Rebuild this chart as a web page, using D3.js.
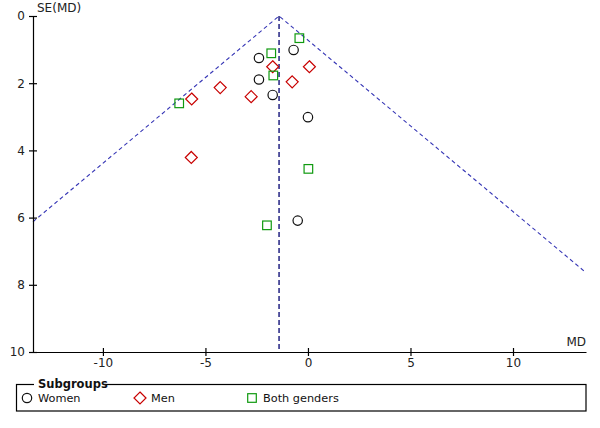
<!DOCTYPE html>
<html><head><meta charset="utf-8">
<script src="https://cdn.jsdelivr.net/npm/d3@7"></script>
<style>body{margin:0;background:#fff}svg{display:block}text{font-family:"DejaVu Sans",Verdana,sans-serif}</style>
</head><body>
<svg id="c" width="600" height="428"></svg>
<script>
// Data (MD, SE(MD))
const women = [[-0.70,1.01],[-2.39,1.25],[-2.39,1.89],[-1.72,2.35],[0.00,3.01],[-0.50,6.09]];
const men = [[-1.72,1.51],[0.07,1.51],[-0.77,1.96],[-4.28,2.13],[-2.77,2.40],[-5.67,2.47],[-5.69,4.21]];
const both = [[-0.42,0.66],[-1.79,1.11],[-1.69,1.77],[-6.28,2.60],[0.02,4.55],[-2.00,6.23]];
const pooledMD = -1.41;
const xDomain = [-13.41, 13.56];
const yDomain = [0, 10];
const xTicks = [-10,-5,0,5,10];
const yTicks = [0,2,4,6,8,10];
const legendLabels = ["Women","Men","Both genders"];

const svg = d3.select("#c");
const x = d3.scaleLinear(xDomain, [33, 586]);
const y = d3.scaleLinear(yDomain, [16, 352]);

// funnel lines
const seL = (pooledMD - xDomain[0]) / 1.96;
const seR = (xDomain[1] - pooledMD) / 1.96;
const funnel = [[xDomain[0], seL],[pooledMD,0],[xDomain[1], seR]];
svg.append("path")
  .attr("d", d3.line().x(d=>x(d[0])).y(d=>y(d[1]))(funnel))
  .attr("fill","none").attr("stroke","#3535b5").attr("stroke-width",1.1)
  .attr("stroke-dasharray","4,3");
svg.append("line")
  .attr("x1",x(pooledMD)).attr("x2",x(pooledMD)).attr("y1",y(0)).attr("y2",y(10))
  .attr("stroke","#000070").attr("stroke-width",1.3).attr("stroke-dasharray","5,3");

// axes
const ya = svg.append("g").attr("transform",`translate(${x(xDomain[0])},0)`)
  .call(d3.axisLeft(y).tickValues(yTicks).tickSize(4).tickSizeOuter(0).tickPadding(4));
ya.selectAll(".tick line").attr("x1",4);
const xa = svg.append("g").attr("transform",`translate(0,${y(10)})`)
  .call(d3.axisBottom(x).tickValues(xTicks).tickSize(4).tickSizeOuter(0).tickPadding(2)
    .tickFormat(d=> (d<0?"-":"")+Math.abs(d)));
xa.selectAll(".tick line").attr("y1",-4);
svg.selectAll(".tick text").attr("font-size",12).attr("fill","#222").style("font-family","DejaVu Sans, Verdana, sans-serif");
svg.selectAll(".domain, .tick line").attr("stroke","#000").attr("stroke-width",1.2);

svg.append("text").attr("x",37).attr("y",12).attr("font-size",12).attr("fill","#222").text("SE(MD)");
svg.append("text").attr("x",586).attr("y",346).attr("text-anchor","end").attr("font-size",12).attr("fill","#222").text("MD");

// markers
const circ = (g,cx,cy)=> g.append("circle").attr("cx",cx).attr("cy",cy).attr("r",4.7)
  .attr("fill","none").attr("stroke","#111").attr("stroke-width",1.2);
const diam = (g,cx,cy)=> g.append("path").attr("d",`M${cx},${cy-6}L${cx+6},${cy}L${cx},${cy+6}L${cx-6},${cy}Z`)
  .attr("fill","none").attr("stroke","#c80000").attr("stroke-width",1.2);
const sq = (g,cx,cy)=> g.append("rect").attr("x",cx-4.3).attr("y",cy-4.3).attr("width",8.6).attr("height",8.6)
  .attr("fill","none").attr("stroke","#109a10").attr("stroke-width",1.2);
const pts = svg.append("g");
women.forEach(d=>circ(pts,x(d[0]),y(d[1])));
men.forEach(d=>diam(pts,x(d[0]),y(d[1])));
both.forEach(d=>sq(pts,x(d[0]),y(d[1])));

// legend
const lg = svg.append("g");
lg.append("rect").attr("x",16.5).attr("y",384.5).attr("width",569.5).attr("height",26.5)
  .attr("fill","none").attr("stroke","#000").attr("stroke-width",1.2);
lg.append("rect").attr("x",34).attr("y",380).attr("width",71).attr("height",8).attr("fill","#fff");
lg.append("text").attr("x",38).attr("y",387.5).attr("font-size",11.5).attr("font-weight","bold").attr("fill","#111").text("Subgroups");
const ly = 398;
circ(lg,27,ly); diam(lg,140,ly); sq(lg,252,ly);
[[38],[151],[263]].forEach((p,i)=>lg.append("text").attr("x",p[0]).attr("y",ly+4)
  .attr("font-size",11.3).attr("fill","#111").text(legendLabels[i]));
</script>
</body></html>
